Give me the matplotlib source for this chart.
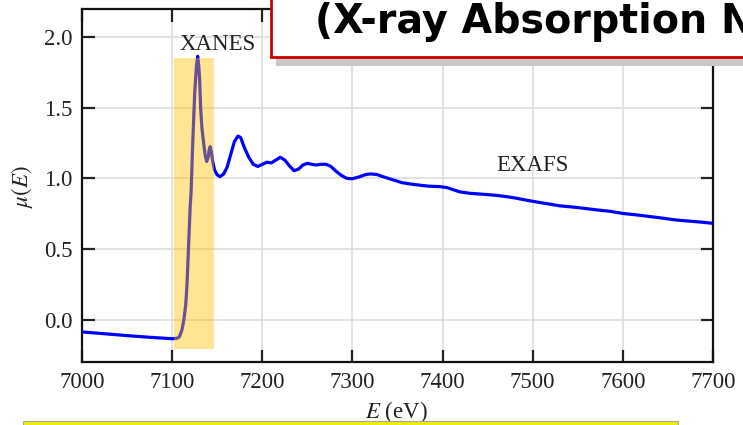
import matplotlib
matplotlib.use("Agg")
import matplotlib.pyplot as plt
from matplotlib.patches import Rectangle

# ---- data ----
energy = [7000, 7025, 7050, 7075, 7100, 7105, 7108, 7111, 7113, 7115, 7116.5,
          7118, 7120, 7121, 7123, 7125, 7127, 7128.3, 7129.5, 7130.5, 7131.6,
          7133, 7134.6, 7136.5, 7138.3, 7140, 7141, 7142.2, 7143.5, 7145, 7147,
          7150, 7153, 7157, 7161, 7165, 7169, 7173, 7176, 7180, 7185, 7190,
          7195, 7200, 7205, 7210, 7215, 7220, 7225, 7230, 7235, 7240, 7245,
          7250, 7255, 7260, 7265, 7271, 7276, 7282, 7288, 7294, 7300, 7308,
          7315, 7320, 7327, 7335, 7345, 7355, 7365, 7375, 7385, 7397, 7405,
          7419, 7430, 7445, 7460, 7471, 7480, 7490, 7500, 7515, 7530, 7545,
          7556, 7570, 7585, 7600, 7615, 7630, 7645, 7660, 7675, 7688, 7700]
mu = [-0.087, -0.100, -0.113, -0.125, -0.135, -0.133, -0.122, -0.07, 0.00,
      0.10, 0.25, 0.49, 0.80, 0.90, 1.28, 1.60, 1.80, 1.865, 1.80, 1.70, 1.50,
      1.36, 1.27, 1.17, 1.12, 1.15, 1.20, 1.225, 1.19, 1.12, 1.06,
      1.025, 1.013, 1.03, 1.08, 1.17, 1.26, 1.30, 1.29, 1.22, 1.15, 1.10,
      1.085, 1.10, 1.115, 1.11, 1.13, 1.15, 1.13, 1.09, 1.055, 1.065, 1.095,
      1.107, 1.10, 1.095, 1.10, 1.10, 1.085, 1.05, 1.02, 1.00, 0.998, 1.012,
      1.028, 1.032, 1.028, 1.01, 0.99, 0.97, 0.96, 0.952, 0.945, 0.942, 0.935,
      0.905, 0.895, 0.888, 0.880, 0.871, 0.862, 0.850, 0.838, 0.822, 0.806, 0.797,
      0.789, 0.778, 0.768, 0.752, 0.742, 0.730, 0.718, 0.705, 0.697, 0.690, 0.682]

xanes_span = [7102, 7146]
xanes_span_y = [-0.205, 1.85]
x_ticks = [7000, 7100, 7200, 7300, 7400, 7500, 7600, 7700]
y_ticks = [0.0, 0.5, 1.0, 1.5, 2.0]
title_text = "(X-ray Absorption Near Edge Structure)"

plt.rcParams['mathtext.fontset'] = 'stix'
serif = 'Liberation Serif'

W, H = 743, 425
fig = plt.figure(figsize=(W / 100, H / 100), dpi=100)
ax = fig.add_axes([82 / W, 1 - 362 / H, (713 - 82) / W, (362 - 9) / H])

ax.plot(energy, mu, color='#0000ff', lw=2.3, zorder=3)
ax.add_patch(Rectangle((xanes_span[0], xanes_span_y[0]),
                       xanes_span[1] - xanes_span[0],
                       xanes_span_y[1] - xanes_span_y[0],
                       facecolor='#ffc000', alpha=0.42, edgecolor='none', zorder=4))

ax.set_xlim(7000, 7700)
ax.set_ylim(-0.3, 2.2)
ax.set_xticks(x_ticks)
ax.set_yticks(y_ticks)
ax.set_xticklabels([str(t) for t in x_ticks], fontfamily=serif, fontsize=16.5)
ax.set_yticklabels([f"{t:.1f}" for t in y_ticks], fontfamily=serif, fontsize=16.5)
ax.tick_params(direction='in', length=9, width=1.6, top=True, right=True,
               color='#222222', labelcolor='#222222', pad=7)
ax.grid(True, color='#dddddd', lw=1.2, zorder=0)
ax.set_axisbelow(True)
for s in ax.spines.values():
    s.set_linewidth(1.6)
    s.set_color('#111111')

ax.text(7151, 1.947, "XANES", ha='center', va='center', fontfamily=serif,
        fontsize=16.5, color='#222222', zorder=5)
ax.text(7500, 1.095, "EXAFS", ha='center', va='center', fontfamily=serif,
        fontsize=16.5, color='#222222', zorder=5)

fig.text(22 / W, 1 - 187 / H, r'$\mu(E)$', rotation=90, ha='center', va='center',
         fontsize=16.5, color='#222222')
fig.text(396 / W, 1 - 412 / H, r'$E$ (eV)', ha='center', va='center',
         fontsize=16.5, color='#222222', fontfamily=serif)

# title box with shadow (cut by the figure edge, as in the reference)
fig.patches.append(Rectangle((276 / W, 1 - 66 / H), 600 / W, 100 / H,
                             transform=fig.transFigure, facecolor='#c8c8c8',
                             edgecolor='none', zorder=10))
fig.patches.append(Rectangle((271 / W, 1 - 57 / H), 600 / W, 100 / H,
                             transform=fig.transFigure, facecolor='white',
                             edgecolor='#cc0000', lw=2.0, zorder=11))
fig.text(315 / W, 1 - 33 / H, title_text, ha='left', va='baseline',
         fontfamily='DejaVu Sans', fontweight='bold', fontsize=28.5,
         color='black', zorder=12)

# yellow box at the bottom (cut by the figure edge)
fig.patches.append(Rectangle((23 / W, 1 - 432 / H), (678 - 23) / W, 10.5 / H,
                             transform=fig.transFigure, facecolor='#ecec10',
                             edgecolor='#a8a890', lw=0.8, zorder=10))

fig.savefig('out.png', dpi=100)
